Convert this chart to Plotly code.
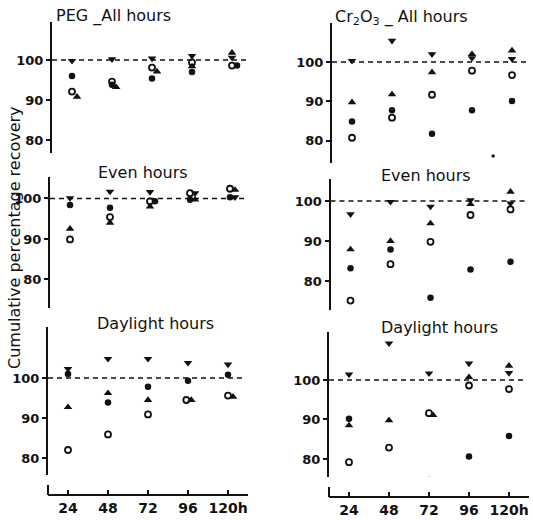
import plotly.graph_objects as go

HOURS = [24, 48, 72, 96, 120]
TICK_LABELS = ["24", "48", "72", "96", "120h"]
Y_TICKS = [80, 90, 100]
REFERENCE = 100

# ---- PEG - All hours ----
PEG_ALL_TRI_DOWN = [99.8, 100.2, 100.4, 101.0, 100.6]
PEG_ALL_DOT = [96.0, 93.8, 95.4, 97.0, 98.6]
PEG_ALL_DOT_X = [24, 48, 72, 96, 123]
PEG_ALL_RING = [92.1, 94.6, 98.1, 99.4, 98.6]
PEG_ALL_TRI_UP = [90.8, 93.2, 97.1, 98.4, 101.8]
PEG_ALL_TRI_UP_X = [27, 50.5, 75, 96, 120]

# ---- PEG - Even hours ----
PEG_EVEN_TRI_DOWN = [100.1, 101.7, 101.6, 101.3, 100.3]
PEG_EVEN_TRI_DOWN_X = [24, 48, 72, 99, 123]
PEG_EVEN_DOT = [98.4, 97.7, 99.3, 99.7, 100.3]
PEG_EVEN_DOT_X = [24, 48, 75, 96, 120]
PEG_EVEN_RING = [89.9, 95.4, 99.3, 101.3, 102.4]
PEG_EVEN_TRI_UP = [92.5, 94.0, 98.0, 99.7, 102.1]
PEG_EVEN_TRI_UP_X = [24, 48, 72, 99, 123]

# ---- PEG - Daylight hours ----
PEG_DAY_TRI_DOWN = [102.3, 104.8, 104.8, 103.8, 103.4]
PEG_DAY_DOT = [101.0, 93.9, 97.8, 99.3, 100.8]
PEG_DAY_RING = [82.0, 85.9, 90.9, 94.5, 95.6]
PEG_DAY_RING_X = [24, 48, 72, 95, 120]
PEG_DAY_TRI_UP = [92.7, 96.2, 94.5, 94.5, 95.3]
PEG_DAY_TRI_UP_X = [24, 48, 72, 98, 123]

# ---- Cr2O3 - All hours ----
CR_ALL_TRI_DOWN = [100.3, 105.4, 102.0, 101.0, 100.8]
CR_ALL_TRI_UP = [89.8, 91.8, 97.4, 102.0, 102.9]
CR_ALL_DOT = [84.9, 87.8, 81.8, 87.8, 90.1]
CR_ALL_RING = [80.8, 85.9, 91.7, 97.8, 96.7]
CR_ALL_STRAY_X = [108.7]
CR_ALL_STRAY = [76.2]

# ---- Cr2O3 - Even hours ----
CR_EVEN_TRI_DOWN = [96.7, 99.8, 98.6, 100.2, 99.4]
CR_EVEN_TRI_UP = [87.9, 90.0, 94.4, 99.2, 102.3]
CR_EVEN_DOT = [83.2, 87.9, 75.8, 82.9, 84.8]
CR_EVEN_RING = [75.1, 84.2, 89.8, 96.5, 97.9]

# ---- Cr2O3 - Daylight hours ----
CR_DAY_TRI_DOWN = [101.4, 109.3, 101.7, 104.2, 101.8]
CR_DAY_TRI_UP = [88.5, 89.8, 91.1, 100.7, 103.6]
CR_DAY_TRI_UP_X = [24, 48, 74.5, 96, 120]
CR_DAY_DOT = [90.2, 74.1, 74.7, 80.6, 85.8]
CR_DAY_RING = [79.2, 82.9, 91.6, 98.6, 97.7]

W, H = 533, 520


def fx(px):
    return px / W


def fy(py):
    return 1 - py / H


FONT = "DejaVu Sans"
INK = "#111111"

STYLES = {
    "dot": dict(symbol="circle", size=6.5, color=INK),
    "ring": dict(symbol="circle-open", size=6, color=INK, line=dict(width=1.8, color=INK)),
    "up": dict(symbol="triangle-up", size=7.5, color=INK),
    "down": dict(symbol="triangle-down", size=7.5, color=INK),
    "stray": dict(symbol="circle", size=3.5, color=INK),
}

PANELS = [
    dict(left=52, top=22, bottom=153, yr=[76.75, 109.5], series=[
        ("down", HOURS, PEG_ALL_TRI_DOWN), ("dot", PEG_ALL_DOT_X, PEG_ALL_DOT),
        ("ring", HOURS, PEG_ALL_RING), ("up", PEG_ALL_TRI_UP_X, PEG_ALL_TRI_UP)]),
    dict(left=50, top=177, bottom=308, yr=[72.96, 105.3], series=[
        ("down", PEG_EVEN_TRI_DOWN_X, PEG_EVEN_TRI_DOWN), ("dot", PEG_EVEN_DOT_X, PEG_EVEN_DOT),
        ("ring", HOURS, PEG_EVEN_RING), ("up", PEG_EVEN_TRI_UP_X, PEG_EVEN_TRI_UP)]),
    dict(left=48, top=327, bottom=475, yr=[75.75, 112.75], bottom_axis=495, series=[
        ("down", HOURS, PEG_DAY_TRI_DOWN), ("dot", HOURS, PEG_DAY_DOT),
        ("ring", PEG_DAY_RING_X, PEG_DAY_RING), ("up", PEG_DAY_TRI_UP_X, PEG_DAY_TRI_UP)]),
    dict(left=332, top=23, bottom=163, yr=[74.4, 109.9], series=[
        ("down", HOURS, CR_ALL_TRI_DOWN), ("up", HOURS, CR_ALL_TRI_UP),
        ("dot", HOURS, CR_ALL_DOT), ("ring", HOURS, CR_ALL_RING),
        ("stray", CR_ALL_STRAY_X, CR_ALL_STRAY)]),
    dict(left=330.5, top=179, bottom=310, yr=[72.75, 105.5], series=[
        ("down", HOURS, CR_EVEN_TRI_DOWN), ("up", HOURS, CR_EVEN_TRI_UP),
        ("dot", HOURS, CR_EVEN_DOT), ("ring", HOURS, CR_EVEN_RING)]),
    dict(left=329, top=332, bottom=477, yr=[75.44, 112.15], bottom_axis=497, series=[
        ("down", HOURS, CR_DAY_TRI_DOWN), ("up", CR_DAY_TRI_UP_X, CR_DAY_TRI_UP),
        ("dot", HOURS, CR_DAY_DOT), ("ring", HOURS, CR_DAY_RING)]),
]

X_RANGE = [12, 132]
PANEL_W = 200

fig = go.Figure()
layout = dict(
    width=W, height=H, margin=dict(l=0, r=0, t=0, b=0),
    paper_bgcolor="white", plot_bgcolor="rgba(0,0,0,0)", showlegend=False,
    font=dict(family=FONT, color=INK),
)
shapes = []

for i, p in enumerate(PANELS, start=1):
    xa = "x" if i == 1 else f"x{i}"
    ya = "y" if i == 1 else f"y{i}"
    xkey = "xaxis" if i == 1 else f"xaxis{i}"
    ykey = "yaxis" if i == 1 else f"yaxis{i}"
    for kind, xs, ys in p["series"]:
        fig.add_trace(go.Scatter(x=xs, y=ys, mode="markers", marker=STYLES[kind],
                                 xaxis=xa, yaxis=ya, hoverinfo="x+y"))
    xdom = [fx(p["left"]), fx(p["left"] + PANEL_W)]
    if "bottom_axis" in p:
        layout[xkey] = dict(
            domain=xdom, range=X_RANGE, anchor="free", position=fy(p["bottom_axis"]),
            showline=True, linecolor=INK, linewidth=2, showgrid=False, zeroline=False,
            ticks="inside", ticklen=4, tickwidth=1.5, tickcolor=INK,
            tickvals=HOURS, ticktext=TICK_LABELS,
            tickfont=dict(family=FONT, size=14, color=INK, weight="bold"),
        )
        shapes.append(dict(type="line", xref=f"{xa} domain", yref="paper",
                           x0=0, x1=0, y0=fy(p["bottom_axis"]), y1=fy(p["bottom_axis"] - 10),
                           line=dict(color=INK, width=2)))
    else:
        layout[xkey] = dict(domain=xdom, range=X_RANGE, visible=False)
    layout[ykey] = dict(
        domain=[fy(p["bottom"]), fy(p["top"])], range=p["yr"], anchor=xa,
        showline=True, linecolor=INK, linewidth=2, showgrid=False, zeroline=False,
        ticks="outside", ticklen=4, tickwidth=1.5, tickcolor=INK,
        tickvals=Y_TICKS, tickfont=dict(family=FONT, size=13, color=INK, weight="bold"),
    )
    shapes.append(dict(type="line", xref=xa, yref=ya, x0=X_RANGE[0], x1=X_RANGE[1] - 1.5,
                       y0=REFERENCE, y1=REFERENCE,
                       line=dict(color=INK, width=1.6, dash="5px,4px")))

layout["shapes"] = shapes

TITLE_FONT = dict(family=FONT, size=16, color=INK)
annotations = [
    dict(text="PEG _All hours", x=fx(54), y=fy(16), xanchor="left", yanchor="middle"),
    dict(text="Cr<sub>2</sub>O<sub>3</sub> _ All hours", x=fx(333), y=fy(18), xanchor="left", yanchor="middle"),
    dict(text="Even hours", x=fx(142.5), y=fy(173), xanchor="center", yanchor="middle"),
    dict(text="Even hours", x=fx(426), y=fy(175), xanchor="center", yanchor="middle"),
    dict(text="Daylight hours", x=fx(155), y=fy(323), xanchor="center", yanchor="middle"),
    dict(text="Daylight hours", x=fx(439), y=fy(327), xanchor="center", yanchor="middle"),
]
for a in annotations:
    a.update(xref="paper", yref="paper", showarrow=False, font=TITLE_FONT)
annotations.append(dict(text="Cumulative percentage recovery", x=fx(15), y=fy(238),
                        xref="paper", yref="paper", showarrow=False, textangle=-90,
                        xanchor="center", yanchor="middle",
                        font=dict(family=FONT, size=16, color=INK)))
layout["annotations"] = annotations

fig.update_layout(**layout)
fig.write_html("out.html", config={"displayModeBar": False},
               post_script="document.body.style.margin='0';")
